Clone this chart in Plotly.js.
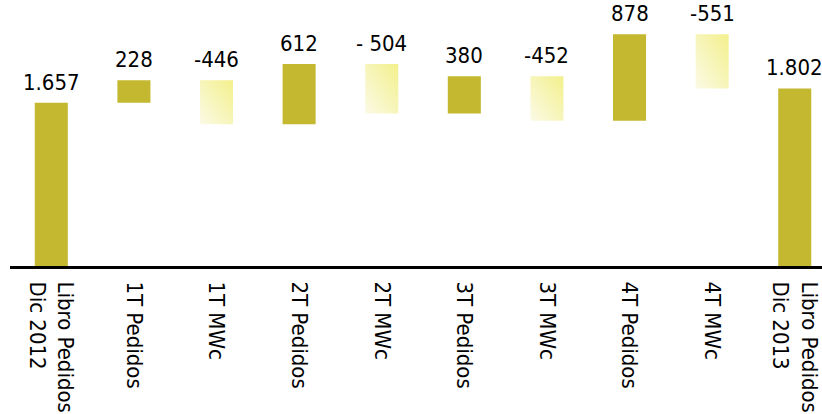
<!DOCTYPE html>
<html>
<head>
<meta charset="utf-8">
<script src="https://cdn.plot.ly/plotly-3.0.1.min.js"></script>
<style>
  html, body { margin: 0; padding: 0; background: #fff; }
  #chart { width: 822px; height: 414px; }
</style>
</head>
<body>
<div id="chart"></div>
<script>
// ---- data ----
var categories = [
  "Libro Pedidos<br>Dic 2012", "1T Pedidos", "1T MWc", "2T Pedidos", "2T MWc",
  "3T Pedidos", "3T MWc", "4T Pedidos", "4T MWc", "Libro Pedidos<br>Dic 2013"
];
var measures = ["absolute", "relative", "relative", "relative", "relative",
                "relative", "relative", "relative", "relative", "total"];
var values = [1657, 228, -446, 612, -504, 380, -452, 878, -551, 1802];
var valueLabels = ["1.657", "228", "-446", "612", "- 504", "380", "-452", "878", "-551", "1.802"];

// ---- styles ----
var OLIVE = "#C4B830";
var PALE = "#F6F4BC";
var FONT = "DejaVu Sans Condensed, DejaVu Sans, sans-serif";

// compute waterfall bases from data
var bases = [], heights = [], tops = [], colors = [], negIdx = [];
var running = 0;
for (var i = 0; i < values.length; i++) {
  var m = measures[i], v = values[i];
  if (m === "absolute" || m === "total") {
    bases.push(0); heights.push(v); tops.push(v); colors.push(OLIVE);
    running = v;
  } else {
    var start = running, end = running + v;
    var lo = Math.min(start, end), hi = Math.max(start, end);
    bases.push(lo); heights.push(hi - lo); tops.push(hi);
    colors.push(v >= 0 ? OLIVE : PALE);
    if (v < 0) negIdx.push(i);
    running = end;
  }
}

var trace = {
  type: "bar",
  x: categories,
  y: heights,
  base: bases,
  width: 0.4,
  marker: { color: colors, line: { width: 0 } },
  hoverinfo: "skip"
};

var annotations = categories.map(function (c, i) {
  return {
    x: c, y: tops[i], xref: "x", yref: "y",
    text: valueLabels[i], showarrow: false,
    yanchor: "bottom", yshift: 6,
    font: { family: FONT, size: 22, color: "#000" }
  };
});

var layout = {
  width: 822, height: 414,
  margin: { l: 10, r: 0, t: 0, b: 148 },
  paper_bgcolor: "#fff", plot_bgcolor: "#fff",
  showlegend: false,
  xaxis: {
    type: "category",
    range: [-0.5, 9.33],
    showline: true, linecolor: "#000", linewidth: 3,
    ticks: "", tickangle: 90, ticklabelstandoff: 8,
    tickfont: { family: FONT, size: 22, color: "#000" },
    showgrid: false, zeroline: false, fixedrange: true
  },
  yaxis: {
    range: [0, 2700], visible: false, showgrid: false, zeroline: false, fixedrange: true
  },
  annotations: annotations
};

Plotly.newPlot("chart", [trace], layout, { displayModeBar: false, staticPlot: true }).then(function (gd) {
  // diagonal gradient for decreasing bars
  var svgNS = "http://www.w3.org/2000/svg";
  var defs = gd.querySelector(".main-svg defs");
  var grad = document.createElementNS(svgNS, "linearGradient");
  grad.setAttribute("id", "negGrad");
  grad.setAttribute("x1", "0"); grad.setAttribute("y1", "1");
  grad.setAttribute("x2", "1"); grad.setAttribute("y2", "0");
  [["0%", "#FBFAE6"], ["100%", "#F3F08C"]].forEach(function (s) {
    var st = document.createElementNS(svgNS, "stop");
    st.setAttribute("offset", s[0]); st.setAttribute("stop-color", s[1]);
    grad.appendChild(st);
  });
  defs.appendChild(grad);
  var paths = gd.querySelectorAll(".bars .point path");
  negIdx.forEach(function (i) {
    if (paths[i]) paths[i].style.fill = "url(#negGrad)";
  });
});
</script>
</body>
</html>
